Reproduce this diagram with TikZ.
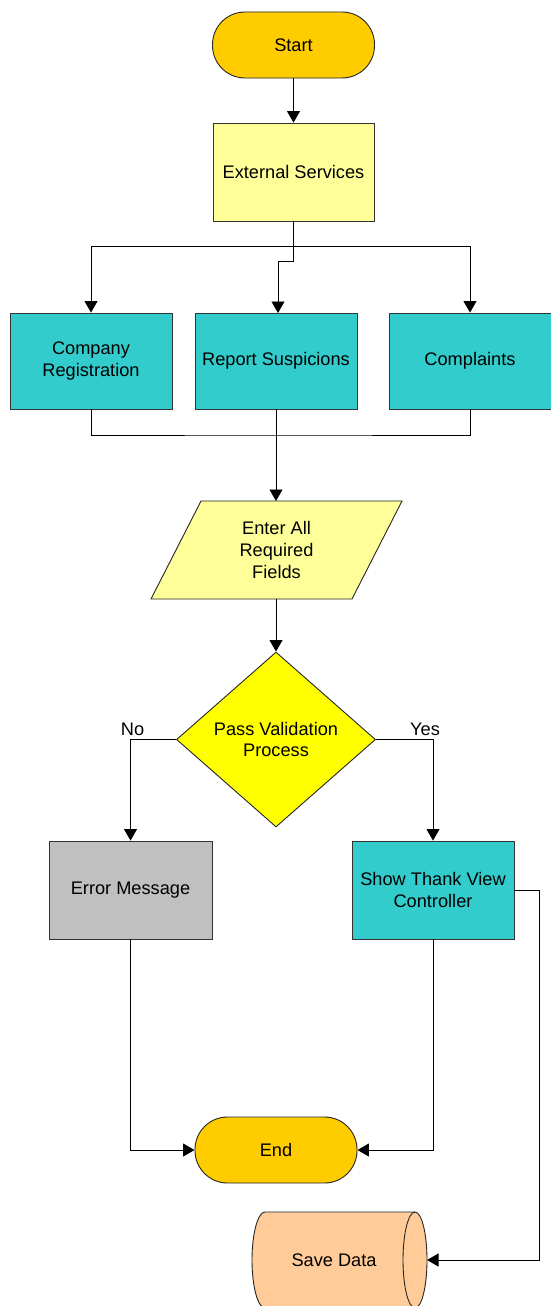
\documentclass[tikz,border=0pt]{standalone}
\usepackage{fontspec}
\setmainfont{Liberation Sans}
\usetikzlibrary{shapes.geometric,arrows.meta}
\definecolor{termc}{HTML}{FFCC00}
\definecolor{paley}{HTML}{FFFF99}
\definecolor{tealc}{HTML}{33CCCC}
\definecolor{decc}{HTML}{FFFF00}
\definecolor{greyc}{HTML}{C0C0C0}
\definecolor{datac}{HTML}{FFCC99}
\begin{document}
\begin{tikzpicture}[x=1pt,y=-1pt,
  font=\fontsize{18.2}{21.8}\selectfont,
  box/.style={draw=black!80, line width=0.9pt, minimum width=162pt, minimum height=97pt, inner sep=0pt, align=center},
  termbox/.style={draw=black!85, line width=0.9pt, fill=termc, rounded corners=32.5pt, minimum width=162pt, minimum height=66pt, inner sep=0pt},
  conn/.style={line width=0.9pt, draw=black},
  arr/.style={conn, -{Triangle[width=13pt,length=11.5pt]}}]
\useasboundingbox (0,0) rectangle (550,1306);
\fill[white] (0,0) rectangle (550,1306);

% nodes
\node[termbox] (start) at (293.5,45) {Start};
\node[box, fill=paley, minimum width=161pt, minimum height=98pt] (es) at (293.5,172) {External Services};
\node[box, fill=tealc, minimum height=96pt] (cr) at (91,361) {Company\\Registration};
\node[box, fill=tealc, minimum height=96pt] (rs) at (276,361) {Report Suspicions};
\node[box, fill=tealc, minimum height=96pt] (comp) at (470,361) {Complaints};

% input parallelogram
\filldraw[fill=paley, draw=black!85, line width=0.9pt] (201,501) -- (402,501) -- (352,599) -- (151,599) -- cycle;
\coordinate (inTop) at (276,501);
\coordinate (inBot) at (276,599);
\node[align=center, inner sep=0pt] (inp) at (276.5,550) {Enter All\\Required\\Fields};

\node[diamond, draw=black!85, line width=0.9pt, fill=decc, minimum width=199pt, minimum height=175pt, inner sep=0pt, aspect=1.137, align=center] (dec) at (276,739.5) {Pass Validation\\Process};
\node[inner sep=0pt] (nolab) at (132.5,729) {No};
\node[inner sep=0pt] (yeslab) at (425,729) {Yes};

\node[box, fill=greyc, minimum width=163pt, minimum height=98pt] (err) at (130.5,890) {Error Message};
\node[box, fill=tealc, minimum width=162pt, minimum height=98pt] (show) at (433,890) {Show Thank View\\Controller};
\node[termbox] (end) at (276,1150) {End};

% save data (direct data cylinder)
\filldraw[fill=datac, draw=black!85, line width=0.9pt]
  (265,1212) -- (415,1212) arc[start angle=-90, end angle=90, x radius=12, y radius=48]
  -- (265,1308) arc[start angle=90, end angle=270, x radius=13, y radius=48] -- cycle;
\draw[black!85, line width=0.9pt] (415,1212) arc[start angle=-90, end angle=-270, x radius=12, y radius=48];
\coordinate (sdR) at (427,1260);
\node[inner sep=0pt] (sd) at (334,1260) {Save Data};

% connectors
\draw[arr] (start) -- (es);
\coordinate (b1) at (293.5,246);
\coordinate (b2) at (293.5,261);
\coordinate (rsIn) at (278,313);
\draw[conn] (es.south) -- (b1);
\draw[arr] (b1) -| (cr.north);
\draw[arr] (b1) -| (comp.north);
\draw[arr] (b1) -- (b2) -| (rsIn);
\coordinate (m) at (276,435);
\draw[conn] (cr.south) |- (m) -| (comp.south);
\draw[arr] (rs.south) -- (inTop);
\draw[arr] (inBot) -- (dec.north);
\draw[arr] (dec.west) -| (err.north);
\draw[arr] (dec.east) -| (show.north);
\draw[arr] (err.south) |- (end.west);
\draw[arr] (show.south) |- (end.east);
\coordinate (rr) at (539,890);
\draw[arr] (show.east) -- (rr) |- (sdR);
\end{tikzpicture}
\end{document}
